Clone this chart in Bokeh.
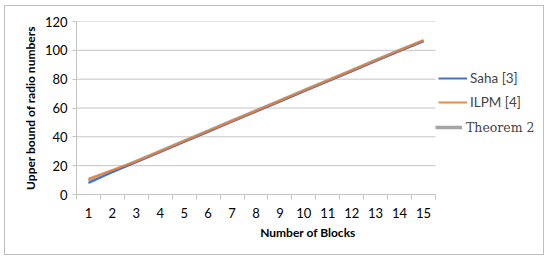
from bokeh.plotting import figure
from bokeh.models import FixedTicker, Legend, LegendItem, Range1d
from bokeh.embed import file_html
from bokeh.resources import INLINE

blocks = list(range(1, 16))
tick_labels = [str(b) for b in blocks]
y_ticks = [0, 20, 40, 60, 80, 100, 120]
saha = [8, 15.5, 22.5, 29.5, 36.5, 43.5, 50.5, 57.5, 64.5, 71.5, 78.5, 85.5, 92.5, 99.5, 106.5]
ilpm = [11, 17, 23, 30, 37, 44, 51, 58, 65, 72, 79, 86, 93, 100, 107]
theorem2 = [9.5, 16, 23, 30, 37, 44, 51, 58, 65, 72, 79, 86, 93, 100, 106.5]

FONT = "Lato"
GRID = "#c4c4c4"

W, H = 540, 250
LEFT, TOP, BOTTOM, RIGHT = 71, 15, 62, 6
frame_w = W - LEFT - RIGHT
cat_w = 23.93
x_end = 0.5 + frame_w / cat_w

p = figure(width=W, height=H, output_backend="svg", toolbar_location=None,
           x_range=Range1d(0.5, x_end), y_range=Range1d(0, 120),
           min_border_left=LEFT, min_border_right=RIGHT, min_border_top=TOP, min_border_bottom=BOTTOM,
           margin=(5, 0, 0, 4),
           styles={"border": "1px solid #bfbfbf"})
p.outline_line_color = None
p.background_fill_color = "white"
p.border_fill_color = "white"

# gridlines limited to the category span
p.segment(x0=[0.5] * 6, x1=[15.5] * 6, y0=y_ticks[1:], y1=y_ticks[1:], line_color=GRID, line_width=1)

# x axis
p.xaxis.bounds = (0.5, 15.5)
p.xaxis.ticker = FixedTicker(ticks=blocks, minor_ticks=[b + 0.5 for b in range(0, 16)])
p.xaxis.major_label_overrides = {b: t for b, t in zip(blocks, tick_labels)}
p.xaxis.major_tick_out = 0
p.xaxis.major_tick_in = 0
p.xaxis.minor_tick_out = 5
p.xaxis.minor_tick_in = 0
p.xaxis.minor_tick_line_color = GRID
p.xaxis.axis_line_color = GRID
p.xaxis.major_label_text_font = FONT
p.xaxis.major_label_text_font_size = "13px"
p.xaxis.major_label_text_color = "#000000"
p.xaxis.major_label_standoff = 8
p.xaxis.axis_label = "Number of Blocks"
p.xaxis.axis_label_text_font = FONT
p.xaxis.axis_label_text_font_size = "12px"
p.xaxis.axis_label_text_font_style = "bold"
p.xaxis.axis_label_text_color = "#000000"
p.xaxis.axis_label_standoff = 4
p.xgrid.grid_line_color = None
p.ygrid.grid_line_color = None

# y axis
p.yaxis.ticker = FixedTicker(ticks=y_ticks, minor_ticks=[])
p.yaxis.major_tick_out = 4
p.yaxis.major_tick_in = 0
p.yaxis.major_tick_line_color = GRID
p.yaxis.axis_line_color = GRID
p.yaxis.major_label_text_font = FONT
p.yaxis.major_label_text_font_size = "13px"
p.yaxis.major_label_text_color = "#000000"
p.yaxis.major_label_standoff = 5
p.yaxis.axis_label = "Upper bound of radio numbers"
p.yaxis.axis_label_text_font = FONT
p.yaxis.axis_label_text_font_size = "12px"
p.yaxis.axis_label_text_font_style = "bold"
p.yaxis.axis_label_text_color = "#000000"
p.yaxis.axis_label_standoff = 4

r_th = p.line(blocks, theorem2, line_color="#A5A5A5", line_width=3.5)
r_saha = p.line(blocks, saha, line_color="#4472C4", line_width=2)
r_ilpm = p.line(blocks, ilpm, line_color="#ED7D31", line_width=2, line_alpha=0.9)

leg1 = Legend(items=[LegendItem(label="Saha [3]", renderers=[r_saha]),
                     LegendItem(label="ILPM [4]", renderers=[r_ilpm])],
              location=(362, 82), padding=0, margin=0, spacing=4,
              glyph_width=29, glyph_height=20, label_height=20, label_standoff=3,
              label_text_font=FONT, label_text_font_size="13.5px",
              border_line_alpha=0, background_fill_alpha=0)
leg2 = Legend(items=[LegendItem(label="Theorem 2", renderers=[r_th])],
              location=(359, 57), padding=0, margin=0,
              glyph_width=27, glyph_height=20, label_height=20, label_standoff=4,
              label_text_font="DejaVu Serif", label_text_font_size="12.5px",
              border_line_alpha=0, background_fill_alpha=0)
p.add_layout(leg1, "center")
p.add_layout(leg2, "center")

open("out.html", "w").write(file_html(p, INLINE))
